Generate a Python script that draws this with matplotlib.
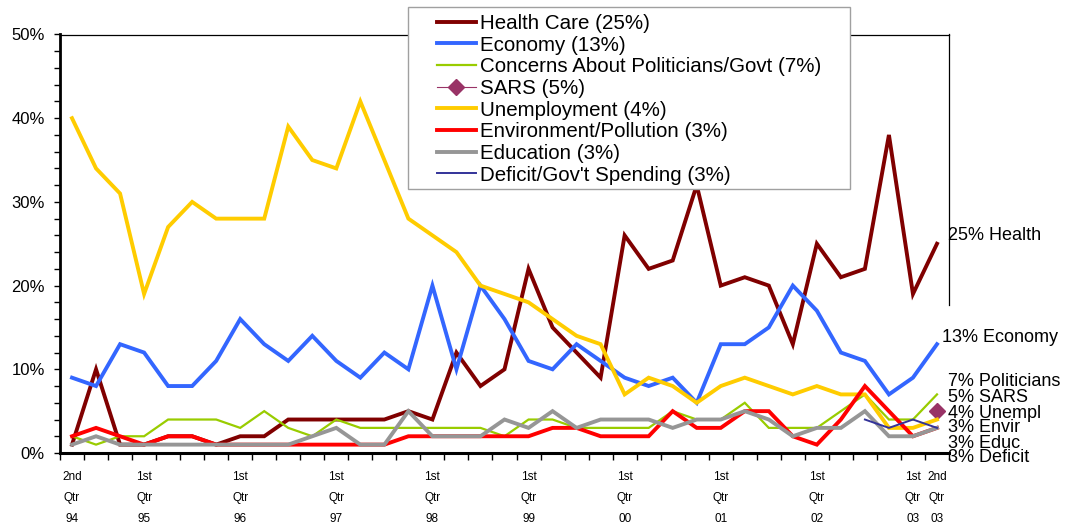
import numpy as np
import matplotlib
matplotlib.use("Agg")
import matplotlib.pyplot as plt
from matplotlib.patches import Rectangle
from matplotlib.ticker import FixedLocator

plt.rcParams["font.family"] = ["Liberation Sans", "DejaVu Sans"]

# квартальные значения, 2 кв. 94 ... 2 кв. 03
health = [1, 10, 1, 1, 2, 2, 1, 2, 2, 4, 4, 4, 4, 4, 5, 4, 12, 8, 10, 22, 15, 12, 9,
          26, 22, 23, 32, 20, 21, 20, 13, 25, 21, 22, 38, 19, 25]
economy = [9, 8, 13, 12, 8, 8, 11, 16, 13, 11, 14, 11, 9, 12, 10, 20, 10, 20, 16, 11, 10,
           13, 11, 9, 8, 9, 6, 13, 13, 15, 20, 17, 12, 11, 7, 9, 13]
politicians = [2, 1, 2, 2, 4, 4, 4, 3, 5, 3, 2, 4, 3, 3, 3, 3, 3, 3, 2, 4, 4, 3, 3, 3, 3,
               5, 4, 4, 6, 3, 3, 3, 5, 7, 4, 4, 7]
sars = [np.nan] * 36 + [5]
unemployment = [40, 34, 31, 19, 27, 30, 28, 28, 28, 39, 35, 34, 42, 35, 28, 26, 24, 20, 19,
                18, 16, 14, 13, 7, 9, 8, 6, 8, 9, 8, 7, 8, 7, 7, 3, 3, 4]
environment = [2, 3, 2, 1, 2, 2, 1, 1, 1, 1, 1, 1, 1, 1, 2, 2, 2, 2, 2, 2, 3, 3, 2, 2, 2,
               5, 3, 3, 5, 5, 2, 1, 4, 8, 5, 2, 3]
education = [1, 2, 1, 1, 1, 1, 1, 1, 1, 1, 2, 3, 1, 1, 5, 2, 2, 2, 4, 3, 5, 3, 4, 4, 4,
             3, 4, 4, 5, 4, 2, 3, 3, 5, 2, 2, 3]
deficit = [np.nan] * 33 + [4, 3, 4, 3]

legend_labels = ["Health Care (25%)", "Economy (13%)", "Concerns About Politicians/Govt (7%)",
                 "SARS (5%)", "Unemployment (4%)", "Environment/Pollution (3%)",
                 "Education (3%)", "Deficit/Gov't Spending (3%)"]
end_labels = ["25% Health", "13% Economy", "7% Politicians", "5% SARS", "4% Unempl",
              "3% Envir", "3% Educ", "3% Deficit"]
tick_pos = [0, 3, 7, 11, 15, 19, 23, 27, 31, 35, 36]
tick_labels = ["2nd\nQtr\n94", "1st\nQtr\n95", "1st\nQtr\n96", "1st\nQtr\n97", "1st\nQtr\n98",
               "1st\nQtr\n99", "1st\nQtr\n00", "1st\nQtr\n01", "1st\nQtr\n02", "1st\nQtr\n03",
               "2nd\nQtr\n03"]

W, H = 1075, 525
fig = plt.figure(figsize=(W / 100, H / 100), dpi=100)
ax = fig.add_axes([60 / W, 1 - 453 / H, 889 / W, 418.5 / H])

x = np.arange(len(health))
series = [health, economy, politicians, sars, unemployment, environment, education, deficit]
styles = [
    dict(color="#800000", lw=2.8),
    dict(color="#3366FF", lw=2.8),
    dict(color="#99CC00", lw=1.6),
    dict(color="#993366", lw=0.8, marker="D", markersize=8),
    dict(color="#FFCC00", lw=2.8),
    dict(color="#FF0000", lw=2.8),
    dict(color="#969696", lw=2.8),
    dict(color="#333399", lw=1.4),
]
for y, st, lab in zip(series, styles, legend_labels):
    ax.plot(x, y, label=lab, solid_joinstyle="miter", **st)

ax.set_xlim(-0.5, len(health) - 0.5)
ax.set_ylim(0, 50)
ax.set_yticks(np.arange(0, 51, 10))
ax.set_yticklabels([f"{v}%" for v in range(0, 51, 10)], fontsize=12)
ax.yaxis.set_minor_locator(FixedLocator(np.arange(0, 51, 2)))
ax.tick_params(axis="y", which="both", direction="out", length=4, width=1, pad=7)

ax.set_xticks(tick_pos)
ax.set_xticklabels(tick_labels, fontsize=8.5, linespacing=2.0)
ax.xaxis.set_minor_locator(FixedLocator(np.arange(-0.5, len(health), 1)))
ax.tick_params(axis="x", which="major", length=0, pad=13)
ax.tick_params(axis="x", which="minor", direction="out", length=5, width=1)

ax.spines["left"].set_linewidth(2)
ax.spines["bottom"].set_linewidth(2.2)
ax.spines["top"].set_linewidth(0.9)
ax.spines["right"].set_linewidth(0.9)
ax.spines["right"].set_bounds(17.7, 50)

# рамка легенды отдельно, чтобы задать её размер как в оригинале
fig.patches.append(Rectangle((408 / W, 1 - 189 / H), 442 / W, 182 / H,
                             transform=fig.transFigure, facecolor="white",
                             edgecolor="#a0a0a0", linewidth=1, zorder=1))
leg = fig.legend(loc="upper left", bbox_to_anchor=(437 / W, 1 - 14 / H), borderaxespad=0,
                 fontsize=14.75, frameon=False, handlelength=1.9,
                 handletextpad=0.2, labelspacing=0.13, borderpad=0)

end_y = [236, 337, 382, 398, 413, 428, 443, 458]
end_x = [948, 942, 948, 948, 948, 948, 948, 948]
for lab, px, py in zip(end_labels, end_x, end_y):
    fig.text(px / W, 1 - py / H, lab, fontsize=13, va="center", ha="left")

fig.savefig("out.png", dpi=100)
